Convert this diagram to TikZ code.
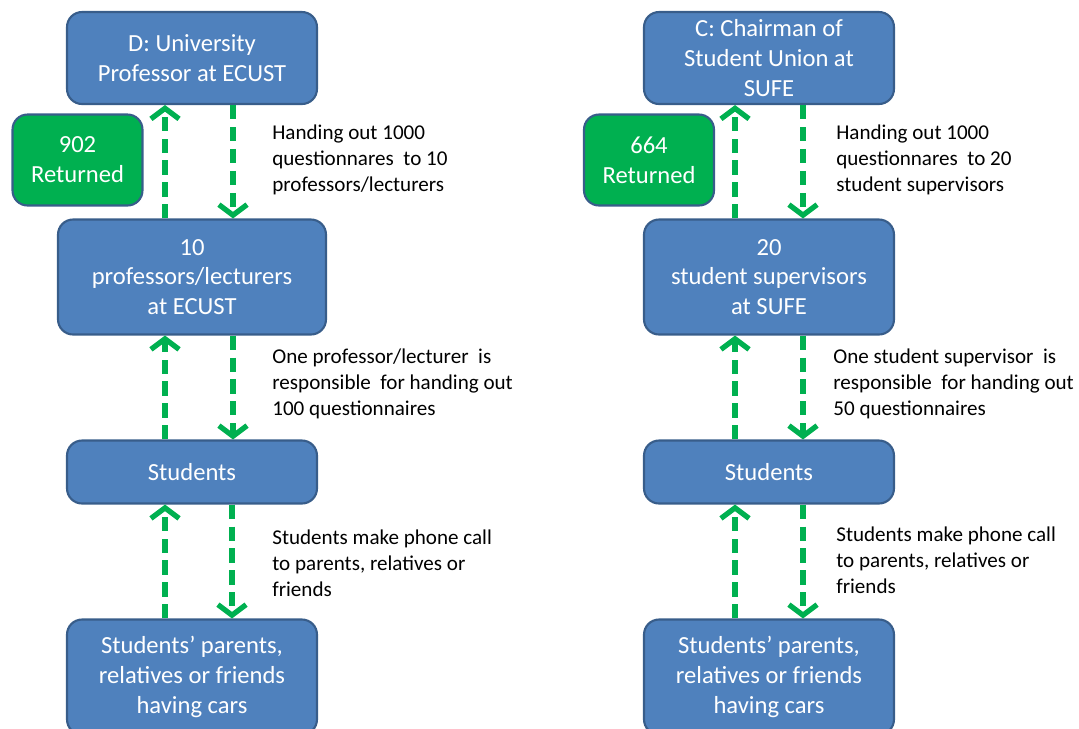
\documentclass[tikz,border=0pt]{standalone}
\usepackage{fontspec}
\setmainfont{Carlito}
\usetikzlibrary{arrows.meta, positioning, calc}
\definecolor{BoxBlue}{HTML}{4F81BD}
\definecolor{BoxEdge}{HTML}{385D8A}
\definecolor{ReturnGreen}{HTML}{00B050}
\definecolor{FlowGreen}{HTML}{00B050}

\begin{document}
\begin{tikzpicture}[x=0.02cm, y=-0.02cm,
    stage/.style={draw=BoxEdge, line width=1.2pt, fill=BoxBlue, rounded corners=0.3cm,
                  text=white, inner sep=0pt, minimum width=5cm, align=center,
                  font=\fontsize{14}{17}\selectfont},
    returned/.style={stage, fill=ReturnGreen, minimum width=2.6cm, minimum height=1.82cm},
    flow/.style={FlowGreen, line width=3pt, dash pattern=on 8pt off 4.5pt,
                 -{Straight Barb[length=6pt, width=16pt]}},
    note/.style={anchor=west, align=left, inner sep=0pt, font=\fontsize{12}{14.7}\selectfont}]
    \useasboundingbox (0,0) rectangle (1079,728);

    % Left column
    \node[stage, minimum height=1.84cm] (profD) at (192,58) {D: University\\Professor  at ECUST};
    \node[returned] (retD) at (77.5,160) {902\\Returned};
    \node[stage, minimum width=5.36cm, minimum height=2.3cm] (lectD) at (192,277) {10\\professors/lecturers\\at ECUST};
    \node[stage, minimum height=1.26cm] (studD) at (192,472) {Students};
    \node[stage, minimum height=2.3cm] (famD) at (192,677) {Students’ parents,\\relatives or friends\\having cars};

    \draw[flow] ([xshift=-0.54cm]lectD.north) -- ([xshift=-0.54cm]profD.south);
    \draw[flow] ([xshift=0.82cm]profD.south) -- ([xshift=0.82cm]lectD.north);
    \draw[flow] ([xshift=-0.54cm]studD.north) -- ([xshift=-0.54cm]lectD.south);
    \draw[flow] ([xshift=0.82cm]lectD.south) -- ([xshift=0.82cm]studD.north);
    \draw[flow] ([xshift=-0.54cm]famD.north) -- ([xshift=-0.54cm]studD.south);
    \draw[flow] ([xshift=0.8cm]studD.south) -- ([xshift=0.8cm]famD.north);

    \node[note] (noteD1) at (272,160) {Handing out 1000\\questionnares\ \ to 10\\professors/lecturers};
    \node[note] (noteD2) at (272,384) {One professor/lecturer\ \ is\\responsible\ \ for handing out\\100 questionnaires};
    \node[note] (noteD3) at (272,563) {Students make phone call\\to parents, relatives or\\friends};

    % Right column
    \node[stage, minimum height=1.84cm] (chairC) at (769,58) {C: Chairman of\\Student Union at\\SUFE};
    \node[returned] (retC) at (649,160) {664\\Returned};
    \node[stage, minimum height=2.3cm] (supC) at (769,277) {20\\student supervisors\\at SUFE};
    \node[stage, minimum height=1.26cm] (studC) at (769,472) {Students};
    \node[stage, minimum height=2.3cm] (famC) at (769,677) {Students’ parents,\\relatives or friends\\having cars};

    \draw[flow] ([xshift=-0.68cm]supC.north) -- ([xshift=-0.68cm]chairC.south);
    \draw[flow] ([xshift=0.68cm]chairC.south) -- ([xshift=0.68cm]supC.north);
    \draw[flow] ([xshift=-0.68cm]studC.north) -- ([xshift=-0.68cm]supC.south);
    \draw[flow] ([xshift=0.68cm]supC.south) -- ([xshift=0.68cm]studC.north);
    \draw[flow] ([xshift=-0.68cm]famC.north) -- ([xshift=-0.68cm]studC.south);
    \draw[flow] ([xshift=0.68cm]studC.south) -- ([xshift=0.68cm]famC.north);

    \node[note] (noteC1) at (836,160) {Handing out 1000\\questionnares\ \ to 20\\student supervisors};
    \node[note] (noteC2) at (833,384) {One student supervisor\ \ is\\responsible\ \ for handing out\\50 questionnaires};
    \node[note] (noteC3) at (836,560) {Students make phone call\\to parents, relatives or\\friends};
\end{tikzpicture}
\end{document}
